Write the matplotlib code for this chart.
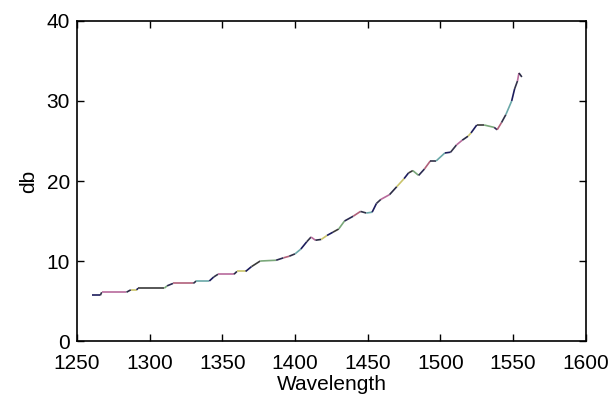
import matplotlib
matplotlib.use("Agg")
import matplotlib.pyplot as plt
import numpy as np

# wavelength (nm) and loss (db)
wavelength = [1260, 1266, 1267, 1284, 1287, 1291, 1292, 1310, 1312, 1316, 1330, 1332,
              1341, 1344, 1347, 1358, 1360, 1366, 1370, 1376, 1387, 1392, 1396, 1400,
              1404, 1408, 1411, 1414, 1418, 1422, 1426, 1430, 1434, 1440, 1445, 1449,
              1453, 1456, 1459, 1465, 1470, 1475, 1478, 1481, 1485, 1489, 1493, 1497,
              1503, 1507, 1511, 1515, 1519, 1521, 1525, 1530, 1537, 1539, 1542, 1545,
              1549, 1551, 1553, 1554, 1556]
db = [5.7, 5.7, 6.1, 6.1, 6.4, 6.4, 6.6, 6.6, 6.9, 7.2, 7.2, 7.5,
      7.5, 8.0, 8.35, 8.35, 8.7, 8.7, 9.3, 10.0, 10.1, 10.4, 10.6, 10.9,
      11.5, 12.4, 13.0, 12.6, 12.7, 13.2, 13.6, 14.0, 15.0, 15.6, 16.2, 16.0,
      16.1, 17.2, 17.7, 18.3, 19.3, 20.3, 21.0, 21.3, 20.7, 21.5, 22.5, 22.5,
      23.5, 23.6, 24.5, 25.1, 25.6, 26.0, 27.0, 27.0, 26.7, 26.4, 27.3, 28.3,
      30.0, 31.5, 32.5, 33.5, 33.0]

xticks = [1250, 1300, 1350, 1400, 1450, 1500, 1550, 1600]
yticks = [0, 10, 20, 30, 40]

# segment colours: mostly dark, with faded matlab-cycle tints here and there
seg_colors = ["#1c1c5c", "#33334a", "#b86a9c", "#2a2a44", "#c9c36a",
              "#1c1c5c", "#3a3a3a", "#7aa87a", "#2a2a50", "#b0607a",
              "#303048", "#6aa8a8"]

plt.rcParams["font.family"] = ["Liberation Sans Narrow", "Liberation Sans", "DejaVu Sans"]

fig = plt.figure(figsize=(6.16, 4.19), dpi=100)
ax = fig.add_axes([0.125, 0.186, 0.826, 0.764])

for i in range(len(wavelength) - 1):
    ax.plot(wavelength[i:i + 2], db[i:i + 2], color=seg_colors[i % len(seg_colors)],
            lw=1.2, solid_capstyle="butt")

ax.set_xlim(1250, 1600)
ax.set_ylim(0, 40)
ax.set_xticks(xticks)
ax.set_yticks(yticks)
ax.tick_params(direction="in", length=5, width=1, top=True, right=True,
               labelsize=15, pad=5)
ax.tick_params(axis="x", pad=9)
for s in ax.spines.values():
    s.set_linewidth(1.2)

ax.set_xlabel("Wavelength", fontsize=15, labelpad=2)
ax.set_ylabel("db", fontsize=15, labelpad=6)

fig.savefig("out.png", dpi=100)
